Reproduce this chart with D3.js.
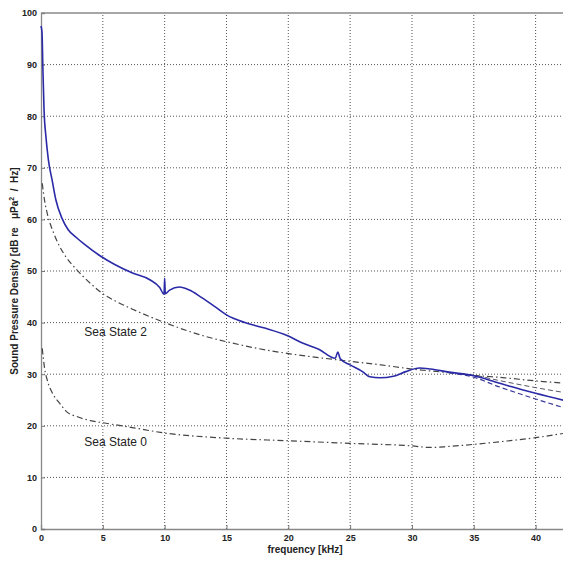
<!DOCTYPE html>
<html>
<head>
<meta charset="utf-8">
<script src="https://cdn.jsdelivr.net/npm/d3@7"></script>
<style>
  html, body { margin: 0; padding: 0; background: #fff; }
  svg { display: block; font-family: "Liberation Sans", Arial, sans-serif; }
</style>
</head>
<body>
<svg id="chart" width="563" height="561"></svg>
<script>
// Frequency ticks (kHz) and level ticks (dB)
const xTicks = [0, 5, 10, 15, 20, 25, 30, 35, 40];
const yTicks = [0, 10, 20, 30, 40, 50, 60, 70, 80, 90, 100];

// Measured spectrum
const measuredFreq = [0, 0.08, 0.15, 0.25, 0.4, 0.6, 0.9, 1.2, 1.7, 2.2, 2.9, 3.5, 4.8, 6, 7.4, 8.8, 9.6, 9.95, 10.0, 10.05, 10.4, 11.2, 12, 12.9, 14, 15, 16.5, 18, 20, 21, 22.5, 23.8, 24.0, 24.2, 25, 26, 26.6, 27.4, 28.5, 29.5, 30.6, 31.5, 33, 35, 36.5, 38, 40, 42.7];
const measuredLevel = [97.5, 96.3, 89.5, 81, 76, 71.5, 67.6, 63.8, 60.2, 58.0, 56.4, 55.2, 52.9, 51.2, 49.6, 48.3, 46.8, 45.5, 48.6, 45.6, 46.3, 46.9, 46.3, 45, 43.2, 41.5, 40, 39, 37.4, 36.2, 34.8, 33.1, 34.3, 33, 31.8, 30.5, 29.5, 29.3, 29.6, 30.5, 31.2, 31, 30.4, 29.7, 28.7, 27.6, 26.3, 24.7];

// Spread of the measurement at the high end
const lowerFreq = [33, 35, 37, 40, 42.7];
const lowerLevel = [30.3, 29.4, 27.6, 25.2, 23.2];
const upperFreq = [34, 35, 37, 40, 42.7];
const upperLevel = [30.0, 29.8, 28.8, 27.4, 26.3];

// Ambient noise reference curves
const ss2Freq = [0.1, 0.3, 0.5, 1, 1.5, 2, 2.9, 4, 5, 6, 7.4, 9.9, 12.9, 15, 17.5, 20, 22.5, 25, 27.5, 30, 32.5, 35, 37.5, 40, 42.7];
const ss2Level = [67, 63.5, 61.2, 57.5, 54.8, 52.8, 50.2, 47.6, 45.6, 44.2, 42.6, 40.1, 37.6, 36.3, 35, 34, 33.2, 32.5, 31.8, 31, 30.4, 29.8, 29.3, 28.7, 28.2];
const ss0Freq = [0.1, 0.3, 0.5, 1, 1.5, 2, 3, 4, 5, 7.5, 10, 15, 20, 25, 30, 31.5, 33, 35, 37.5, 40, 42.7];
const ss0Level = [35, 31, 28.9, 26, 24.4, 22.9, 21.7, 21, 20.6, 19.6, 18.6, 17.6, 17.1, 16.6, 16.1, 15.8, 16, 16.4, 17, 17.7, 18.7];

const svg = d3.select("#chart");
const x = d3.scaleLinear().domain([0, 42.7]).range([41, 569]);
const y = d3.scaleLinear().domain([0, 100]).range([529, 13]);

// Dotted grid
const grid = svg.append("g");
grid.selectAll("line.v").data(xTicks.filter(d => d > 0)).join("line")
  .attr("x1", d => x(d)).attr("x2", d => x(d))
  .attr("y1", y(0)).attr("y2", y(100))
  .attr("stroke", "#555").attr("stroke-width", 1).attr("stroke-dasharray", "1,2");
grid.selectAll("line.h").data(yTicks.filter(d => d > 0 && d < 100)).join("line")
  .attr("x1", x(0)).attr("x2", x(42.7))
  .attr("y1", d => y(d)).attr("y2", d => y(d))
  .attr("stroke", "#555").attr("stroke-width", 1).attr("stroke-dasharray", "1,2");

// Axes
const xAxis = d3.axisBottom(x).tickValues(xTicks).tickSize(-4).tickPadding(6);
const yAxis = d3.axisLeft(y).tickValues(yTicks).tickSize(-4).tickPadding(4);
const gx = svg.append("g").attr("transform", `translate(0,${y(0)})`).call(xAxis);
const gy = svg.append("g").attr("transform", `translate(${x(0)},0)`).call(yAxis);
[gx, gy].forEach(g => {
  g.select(".domain").attr("stroke", "#888").attr("stroke-width", 1.3);
  g.selectAll(".tick line").attr("stroke", "#777");
  g.selectAll(".tick text").attr("fill", "#222").style("font-size", "9px")
    .style("font-weight", "bold").attr("font-family", "'Liberation Sans Narrow', 'Liberation Sans', Arial, sans-serif");
});
// Top border
svg.append("line").attr("x1", x(0)).attr("x2", x(42.7)).attr("y1", y(100)).attr("y2", y(100))
  .attr("stroke", "#888").attr("stroke-width", 1.3);

const line = d3.line().x(d => x(d[0])).y(d => y(d[1])).curve(d3.curveMonotoneX);
const zip = (a, b) => a.map((v, i) => [v, b[i]]);

// Reference curves
svg.append("path").datum(zip(ss2Freq, ss2Level)).attr("d", line)
  .attr("fill", "none").attr("stroke", "#444").attr("stroke-width", 1.2).attr("stroke-dasharray", "6,3,1.5,3");
svg.append("path").datum(zip(ss0Freq, ss0Level)).attr("d", line)
  .attr("fill", "none").attr("stroke", "#444").attr("stroke-width", 1.2).attr("stroke-dasharray", "6,3,1.5,3");

// Measurement spread
svg.append("path").datum(zip(upperFreq, upperLevel)).attr("d", line)
  .attr("fill", "none").attr("stroke", "#556").attr("stroke-width", 1).attr("stroke-dasharray", "5,3");
svg.append("path").datum(zip(lowerFreq, lowerLevel)).attr("d", line)
  .attr("fill", "none").attr("stroke", "#3a3a9a").attr("stroke-width", 1.2).attr("stroke-dasharray", "5,3");

// Measured spectrum
svg.append("path").datum(zip(measuredFreq, measuredLevel)).attr("d", line)
  .attr("fill", "none").attr("stroke", "#2a2aa8").attr("stroke-width", 1.6).attr("stroke-linejoin", "round");

// Curve labels
svg.append("text").attr("x", x(3.5)).attr("y", y(37.5)).text("Sea State 2")
  .style("font-size", "12px").attr("fill", "#222");
svg.append("text").attr("x", x(3.5)).attr("y", y(16)).text("Sea State 0")
  .style("font-size", "12px").attr("fill", "#222");

// Axis titles
svg.append("text").attr("x", (x(0) + x(42.7)) / 2).attr("y", 553).attr("text-anchor", "middle")
  .style("font-size", "10px").style("font-weight", "bold").attr("fill", "#222").text("frequency [kHz]");
const yl = svg.append("text").attr("transform", `translate(18,${(y(0) + y(100)) / 2}) rotate(-90)`)
  .attr("text-anchor", "middle").style("font-size", "10px").style("font-weight", "bold")
  .style("white-space", "pre").attr("fill", "#222");
yl.append("tspan").text("Sound Pressure Density [dB re   \u03BCPa");
yl.append("tspan").attr("dy", -4).style("font-size", "7px").text("2");
yl.append("tspan").attr("dy", 4).text("  /  Hz]");
</script>
</body>
</html>
